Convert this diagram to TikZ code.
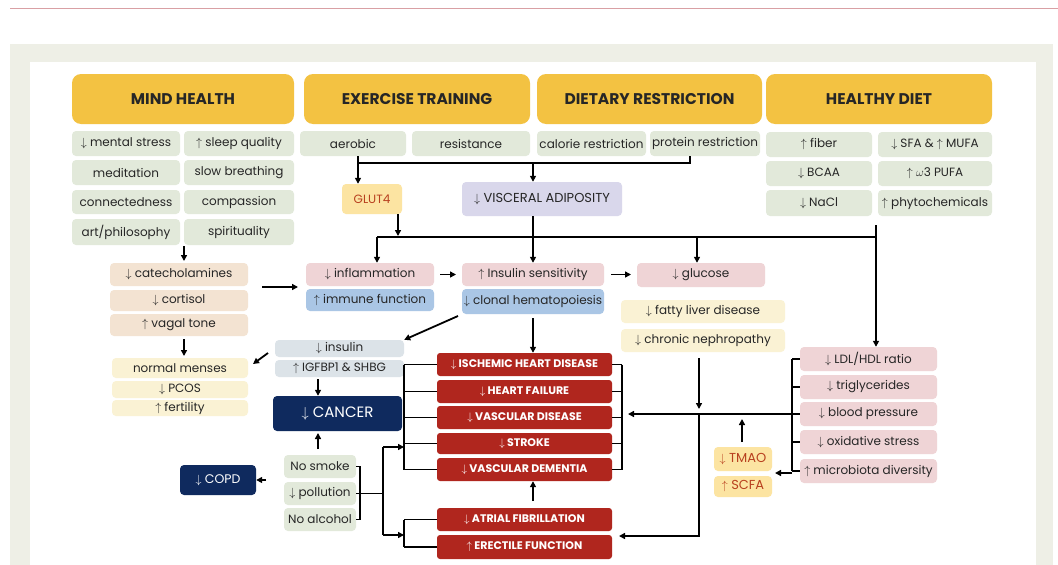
\documentclass[tikz,border=0pt]{standalone}
\usepackage{fontspec}
\setmainfont{Poppins}
\usetikzlibrary{arrows.meta}
\definecolor{gold}{HTML}{F3C242}
\definecolor{grn}{HTML}{E2E9DA}
\definecolor{tan}{HTML}{F3E3D2}
\definecolor{pnk}{HTML}{EFD4D6}
\definecolor{blu}{HTML}{AAC6E5}
\definecolor{yel}{HTML}{FAF2D4}
\definecolor{lav}{HTML}{D9D7EB}
\definecolor{glu}{HTML}{FCE4A2}
\definecolor{gtx}{HTML}{B8401F}
\definecolor{rd}{HTML}{B0261E}
\definecolor{nvy}{HTML}{0F2A5E}
\definecolor{gb}{HTML}{DCE3E8}
\definecolor{panel}{HTML}{EEEFE6}
\definecolor{rule}{HTML}{D9A0A4}
\newcommand\dn{$\downarrow$}
\newcommand\up{$\uparrow$}
\tikzset{
 bxs/.style={draw=none,rounded corners=4pt,inner sep=0pt,align=center,font=\fontsize{12}{13}\selectfont,text=black!85},
 hd/.style={bxs,fill=gold,rounded corners=9pt,font=\fontsize{15.5}{16}\selectfont\bfseries},
 sg/.style={bxs,fill=grn}, st/.style={bxs,fill=tan}, sp/.style={bxs,fill=pnk},
 sb/.style={bxs,fill=blu}, sy/.style={bxs,fill=yel}, gbs/.style={bxs,fill=gb},
 sr/.style={bxs,fill=rd,text=white,rounded corners=3pt,font=\fontsize{11}{12}\selectfont\bfseries},
 sn/.style={bxs,fill=nvy,text=white,font=\fontsize{15}{16}\selectfont},
 ar/.style={line width=1.8pt,-{Triangle[length=6pt,width=6pt]}},
 ln/.style={line width=1.8pt},
}
\newcommand\bx[7]{\node[#2,minimum width={(#5-#3)*1pt},minimum height={(#6-#4)*1pt}] (#1) at ({(#3+#5)/2},{(#4+#6)/2}) {#7};}
\begin{document}
\begin{tikzpicture}[x=1pt,y=-1pt]
\useasboundingbox (0,0) rectangle (1058,565);
\fill[white] (0,0) rectangle (1058,565);
\draw[rule,line width=0.8pt] (10,8) -- (1058,8);
\fill[panel] (10,44) rectangle (1053,565);
\fill[white] (30,62) rectangle (1036,565);
% headers
\bx{mh}{hd}{72}{74}{294}{124}{MIND HEALTH}
\bx{et}{hd}{304}{74}{530}{124}{EXERCISE TRAINING}
\bx{dr}{hd}{537}{74}{762}{124}{DIETARY RESTRICTION}
\bx{hdiet}{hd}{766}{74}{992}{124}{HEALTHY DIET}
% mind
\bx{m1}{sg}{72}{131}{180}{156}{\dn\ mental stress}
\bx{m2}{sg}{184}{131}{294}{156}{\up\ sleep quality}
\bx{m3}{sg}{72}{160}{180}{185}{meditation}
\bx{m4}{sg}{184}{160}{294}{185}{slow breathing}
\bx{m5}{sg}{72}{190}{180}{214}{connectedness}
\bx{m6}{sg}{184}{190}{294}{214}{compassion}
\bx{m7}{sg}{72}{219}{180}{245}{art/philosophy}
\bx{m8}{sg}{184}{219}{294}{245}{spirituality}
% exercise / diet
\bx{aer}{sg}{300}{131}{406}{156}{aerobic}
\bx{res}{sg}{412}{131}{530}{156}{resistance}
\bx{cal}{sg}{537}{131}{646}{156}{calorie restriction}
\bx{pro}{sg}{650}{131}{760}{156}{protein restriction}
\bx{d1}{sg}{766}{132}{872}{157}{\up\ fiber}
\bx{d2}{sg}{878}{132}{992}{157}{\dn\ SFA \& \up\ MUFA}
\bx{d3}{sg}{766}{161}{872}{186}{\dn\ BCAA}
\bx{d4}{sg}{878}{161}{992}{186}{\up\ $\omega$3 PUFA}
\bx{d5}{sg}{766}{190}{872}{216}{\dn\ NaCl}
\bx{d6}{sg}{878}{190}{992}{216}{\up\ phytochemicals}
\bx{glut}{bxs,fill=glu,text=gtx}{342}{184}{402}{214}{GLUT4}
\bx{vis}{bxs,fill=lav,font=\fontsize{13}{14}\selectfont}{462}{182}{622}{216}{\dn\ VISCERAL ADIPOSITY}
% middle row
\bx{cat}{st}{110}{263}{248}{286}{\dn\ catecholamines}
\bx{cor}{st}{110}{290}{248}{311}{\dn\ cortisol}
\bx{vag}{st}{110}{314}{248}{336}{\up\ vagal tone}
\bx{inf}{sp}{306}{263}{434}{286}{\dn\ inflammation}
\bx{imm}{sb}{306}{289}{434}{311}{\up\ immune function}
\bx{ins}{sp}{462}{263}{604}{286}{\up\ Insulin sensitivity}
\bx{clo}{sb}{462}{289}{604}{314}{\dn\ clonal hematopoiesis}
\bx{glc}{sp}{637}{263}{765}{287}{\dn\ glucose}
\bx{fat}{sy}{621}{300}{785}{323}{\dn\ fatty liver disease}
\bx{neph}{sy}{621}{329}{785}{352}{\dn\ chronic nephropathy}
\bx{men}{sy}{112}{358}{248}{378}{normal menses}
\bx{pcos}{sy}{112}{381}{248}{398}{\dn\ PCOS}
\bx{fer}{sy}{112}{400}{248}{416}{\up\ fertility}
\bx{insl}{gbs}{275}{340}{404}{357}{\dn\ insulin}
\bx{igf}{gbs}{275}{360}{404}{377}{\up\ IGFBP1 \& SHBG}
\bx{can}{sn}{273}{396}{402}{431}{\dn\ CANCER}
\bx{copd}{sn,font=\fontsize{12.5}{13}\selectfont}{180}{465}{256}{495}{\dn\ COPD}
\bx{smk}{sg}{284}{455}{356}{478}{No smoke}
\bx{pol}{sg}{284}{482}{356}{505}{\dn\ pollution}
\bx{alc}{sg}{284}{508}{356}{531}{No alcohol}
\bx{ihd}{sr}{437}{353}{612}{376}{\dn\ ISCHEMIC HEART DISEASE}
\bx{hf}{sr}{437}{380}{612}{403}{\dn\ HEART FAILURE}
\bx{vd}{sr}{437}{406}{612}{429}{\dn\ VASCULAR DISEASE}
\bx{str}{sr}{437}{433}{612}{454}{\dn\ STROKE}
\bx{dem}{sr}{437}{458}{612}{481}{\dn\ VASCULAR DEMENTIA}
\bx{af}{sr}{437}{508}{612}{531}{\dn\ ATRIAL FIBRILLATION}
\bx{ef}{sr}{437}{535}{612}{559}{\up\ ERECTILE FUNCTION}
\bx{ldl}{sp}{800}{347}{937}{371}{\dn\ LDL/HDL ratio}
\bx{tri}{sp}{800}{375}{937}{399}{\dn\ triglycerides}
\bx{bp}{sp}{800}{402}{937}{426}{\dn\ blood pressure}
\bx{ox}{sp}{800}{430}{937}{454}{\dn\ oxidative stress}
\bx{mic}{sp}{800}{459}{937}{483}{\up\ microbiota diversity}
\bx{tma}{bxs,fill=glu,text=gtx,font=\fontsize{13}{14}\selectfont}{714}{447}{772}{471}{\dn\ TMAO}
\bx{scf}{bxs,fill=glu,text=gtx,font=\fontsize{13}{14}\selectfont}{714}{476}{772}{497}{\up\ SCFA}
% connectors
\coordinate (j1) at (358,163); \coordinate (j2) at (533,163); \coordinate (j3) at (690,163);
\draw[ln] (358,156) -- (j1) -- (j3) -- (690,156);
\draw[ar] (358,156) -- (glut.north -| j1);
\draw[ar] (j2) -- (vis.north -| j2);
\coordinate (h1) at (377,237); \coordinate (h2) at (876,237);
\coordinate (h3) at (533,237); \coordinate (h4) at (697,237);
\draw[ln] (h1) -- (h2);
\draw[ar] (398,214) -- (398,236);
\draw[ln] (vis.south -| h3) -- (h3);
\draw[ar] (h1) -- (inf.north -| h1);
\draw[ar] (h3) -- (ins.north -| h3);
\draw[ar] (h4) -- (glc.north -| h4);
\draw[ar] (876,225) -- (ldl.north -| h2);
\draw[ar] (184,246) -- (184,261);
\draw[ar] (262,287) -- (298,287);
\draw[ar] (440,274.5) -- (456,274.5);
\draw[ar] (611,274.5) -- (631,274.5);
\draw[ar] (458,316) -- (insl.north east);
\draw[ar] (184,339) -- (184,356);
\draw[ar] (268,353) -- (253,364);
\draw[ar] (318,379) -- (can.north -| 318,396);
\draw[ar] (318,449) -- (318,433);
\draw[ar] (266,480) -- (copd.east);
\draw[ln] (smk.east) -- (360,466.5) -- (360,519.5) -- (alc.east);
\draw[ln] (pol.east) -- (383,493.5);
\draw[ar] (383,447) -- (404,447);
\draw[ar] (383,535) -- (404,535);
\draw[ln] (383,447) -- (383,535);
\draw[ln] (404,364.5) -- (404,469.5);
\draw[ln] (622,364.5) -- (622,469.5);
\foreach \n in {ihd,hf,vd,str,dem}{\draw[ln] (\n.west) -- ++(-33,0); \draw[ln] (\n.east) -- ++(10,0);}
\draw[ln] (404,519.5) -- (404,547);
\foreach \n in {af,ef}{\draw[ln] (\n.west) -- ++(-33,0);}
\draw[ar] (533,318) -- (ihd.north -| h3);
\draw[ar] (533,501) -- (dem.south -| h3);
\draw[ln] (792,359) -- (792,471);
\foreach \n in {ldl,tri,bp,ox,mic}{\draw[ln] (\n.west) -- ++(-8,0);}
\draw[ar] (792,414) -- (628,414);
\draw[ar] (699,358) -- (699,409);
\draw[ar] (699,414) -- (699,536) -- (619,536);
\draw[ar] (742,442) -- (742,419);
\draw[ar] (792,473) -- (775,473);
\end{tikzpicture}
\end{document}
